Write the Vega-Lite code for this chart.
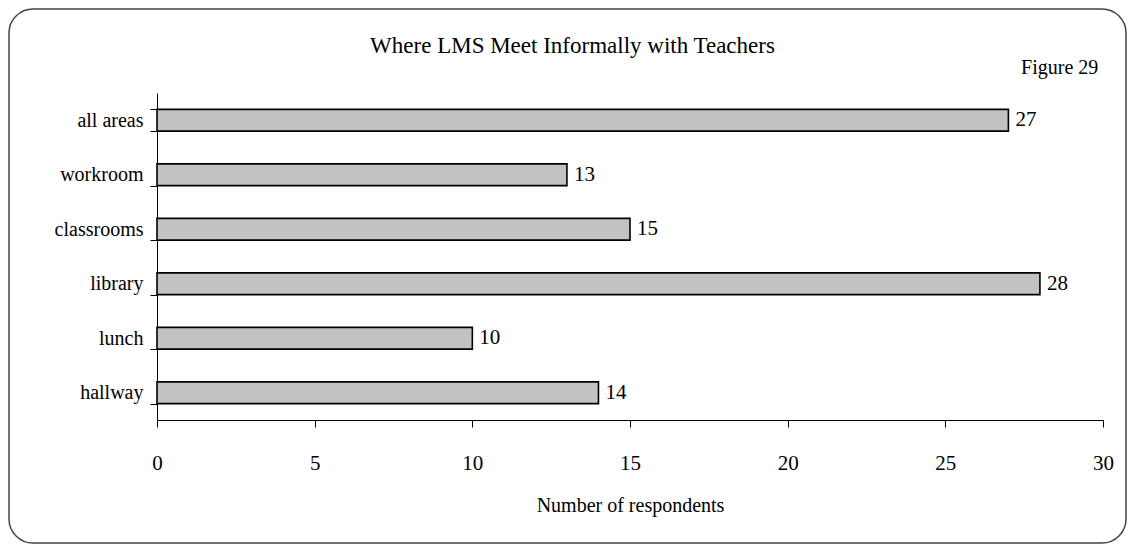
{
  "$schema": "https://vega.github.io/schema/vega-lite/v6.json",
  "width": 1117,
  "height": 534,
  "autosize": {"type": "none"},
  "padding": {"left": 9, "top": 9, "right": 3, "bottom": 2},
  "background": "white",
  "config": {
    "view": {"stroke": "#444444", "strokeWidth": 1.5, "cornerRadius": 24},
    "font": "Liberation Serif"
  },
  "title": {
    "text": "Where LMS Meet Informally with Teachers",
    "font": "Liberation Serif",
    "fontSize": 23,
    "fontWeight": "normal",
    "color": "black",
    "anchor": "middle",
    "baseline": "alphabetic",
    "offset": -46,
    "dy": 31,
    "dx": 5
  },
  "data": {
    "values": [
      {"area": "all areas", "count": 27},
      {"area": "workroom", "count": 13},
      {"area": "classrooms", "count": 15},
      {"area": "library", "count": 28},
      {"area": "lunch", "count": 10},
      {"area": "hallway", "count": 14}
    ]
  },
  "layer": [
    {
      "mark": {"type": "bar", "fill": "#c2c2c2", "stroke": "black", "strokeWidth": 1.6},
      "encoding": {
        "y": {
          "field": "area",
          "type": "nominal",
          "sort": null,
          "scale": {"range": [84, 411], "paddingInner": 0.6, "paddingOuter": 0.3},
          "axis": {
            "title": null,
            "tickBand": "extent",
            "tickSize": 7,
            "labelPadding": 7,
            "labelFontSize": 20,
            "labelFont": "Liberation Serif",
            "labelColor": "black",
            "domainColor": "black",
            "tickColor": "black",
            "offset": -148
          }
        },
        "x": {
          "field": "count",
          "type": "quantitative",
          "scale": {"domain": [0, 30], "range": [148, 1094], "nice": false},
          "axis": {
            "values": [0, 5, 10, 15, 20, 25, 30],
            "grid": false,
            "labelFlush": false,
            "tickSize": 7,
            "labelPadding": 25,
            "labelFontSize": 21,
            "labelFont": "Liberation Serif",
            "labelColor": "black",
            "domainColor": "black",
            "tickColor": "black",
            "title": "Number of respondents",
            "titleFont": "Liberation Serif",
            "titleFontSize": 20,
            "titleFontWeight": "normal",
            "titleColor": "black",
            "titlePadding": 22,
            "offset": -123
          }
        }
      }
    },
    {
      "mark": {"type": "text", "align": "left", "baseline": "middle", "dx": 7, "fontSize": 21, "font": "Liberation Serif", "color": "black"},
      "encoding": {
        "y": {"field": "area", "type": "nominal", "sort": null},
        "x": {"field": "count", "type": "quantitative"},
        "text": {"field": "count"}
      }
    },
    {
      "data": {"values": [{"label": "Figure 29"}]},
      "mark": {"type": "text", "align": "right", "baseline": "middle", "dy": -52, "fontSize": 20, "font": "Liberation Serif", "color": "black"},
      "encoding": {
        "x": {"datum": 29.85, "type": "quantitative"},
        "y": {"datum": "all areas", "type": "nominal"},
        "text": {"field": "label"}
      }
    }
  ]
}
